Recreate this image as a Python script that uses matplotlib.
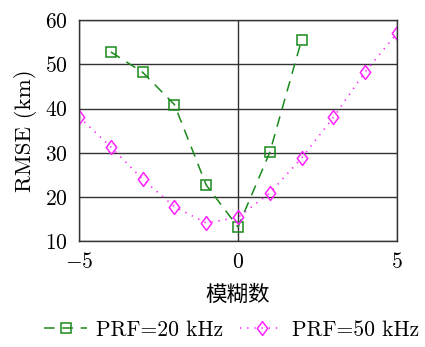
import numpy as np
import matplotlib
matplotlib.use("Agg")
import matplotlib.pyplot as plt
from matplotlib.path import Path

plt.rcParams['font.family'] = ['cmr10', 'Noto Sans CJK SC', 'DejaVu Sans']
plt.rcParams['mathtext.fontset'] = 'cm'
plt.rcParams['axes.formatter.use_mathtext'] = True
plt.rcParams['axes.unicode_minus'] = False

# data
x_20 = [-4, -3, -2, -1, 0, 1, 2]
rmse_20 = [52.8, 48.2, 40.9, 22.7, 13.2, 30.1, 55.5]
x_50 = [-5, -4, -3, -2, -1, 0, 1, 2, 3, 4, 5]
rmse_50 = [38.1, 31.3, 24.0, 17.8, 14.1, 15.4, 20.9, 28.8, 38.0, 48.3, 57.0]
labels = ['PRF=20 kHz', 'PRF=50 kHz']

# pgfplots-like diamond (taller than wide)
diamond = Path([(0, 1), (0.75, 0), (0, -1), (-0.75, 0), (0, 1)],
               [Path.MOVETO, Path.LINETO, Path.LINETO, Path.LINETO, Path.CLOSEPOLY])

fs = 15.5

fig = plt.figure(figsize=(4.25, 3.47), dpi=100)
ax = fig.add_axes([0.186, 0.305, 0.748, 0.637])

ax.plot(x_20, rmse_20, color='#1a8a1a', lw=1.1, dashes=(7, 5),
        marker='s', ms=6.5, mfc='none', mec='#1a8a1a', mew=1.1, label=labels[0])
ax.plot(x_50, rmse_50, color='#ff22ff', lw=1.2, dashes=(0.8, 3.5),
        marker=diamond, ms=10, mfc='none', mec='#ff22ff', mew=1.1, label=labels[1])

ax.set_xlim(-5, 5)
ax.set_ylim(10, 60)
ax.set_xticks([-5, 0, 5])
ax.set_yticks([10, 20, 30, 40, 50, 60])
ax.grid(True, color='#333333', lw=1.0)
ax.set_axisbelow(True)
for s in ax.spines.values():
    s.set_color('#333333')
    s.set_linewidth(1.0)
ax.tick_params(direction='in', length=0, labelsize=fs, pad=8)

ax.set_xlabel('模糊数', fontsize=fs, labelpad=9)
ax.set_ylabel('RMSE (km)', fontsize=16.5, labelpad=6)

fig.legend(loc='lower center', bbox_to_anchor=(0.545, -0.035), ncol=2, frameon=False,
           fontsize=fs, handlelength=2.0, columnspacing=0.8, handletextpad=0.4)

fig.savefig('out.png', dpi=100)
